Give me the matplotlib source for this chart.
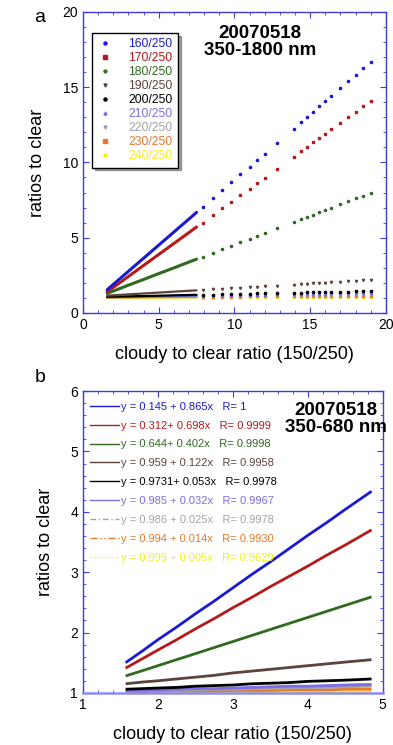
import numpy as np
import matplotlib.pyplot as plt
from matplotlib.ticker import MultipleLocator

plt.rcParams['font.family'] = ['Liberation Sans', 'DejaVu Sans']

# ---- data, panel a (350-1800 nm) ----
xa = [1.6, 2.0, 3.0, 4.0, 5.0, 6.0, 7.0, 7.5,
      7.9, 8.6, 9.2, 9.8, 10.4, 11.0, 11.5, 12.0, 12.8, 13.9, 14.4, 14.8,
      15.2, 15.6, 16.0, 16.4, 17.0, 17.5, 18.0, 18.5, 19.0]
ya_160 = [1.54, 1.89, 2.76, 3.63, 4.50, 5.37, 6.24, 6.68, 7.02, 7.63, 8.15, 8.68, 9.20, 9.72, 10.16,
          10.59, 11.29, 12.24, 12.68, 13.03, 13.37, 13.72, 14.07, 14.42, 14.94, 15.38, 15.81, 16.25, 16.68]
ya_170 = [1.40, 1.69, 2.42, 3.15, 3.88, 4.61, 5.34, 5.71, 6.00, 6.51, 6.95, 7.38, 7.82, 8.26, 8.63,
          8.99, 9.57, 10.38, 10.74, 11.03, 11.33, 11.62, 11.91, 12.20, 12.64, 13.01, 13.37, 13.74, 14.10]
ya_180 = [1.30, 1.45, 1.84, 2.22, 2.61, 2.99, 3.38, 3.57, 3.72, 3.99, 4.22, 4.45, 4.68, 4.92, 5.11,
          5.30, 5.61, 6.03, 6.22, 6.38, 6.53, 6.69, 6.84, 6.99, 7.23, 7.42, 7.61, 7.80, 8.00]
ya_190 = [1.15, 1.17, 1.23, 1.29, 1.35, 1.41, 1.47, 1.50, 1.52, 1.57, 1.60, 1.64, 1.67, 1.71, 1.74,
          1.77, 1.82, 1.88, 1.91, 1.94, 1.96, 1.99, 2.01, 2.03, 2.07, 2.10, 2.13, 2.16, 2.19]
ya_200 = [1.07, 1.08, 1.10, 1.12, 1.14, 1.17, 1.19, 1.20, 1.21, 1.22, 1.24, 1.25, 1.26, 1.28, 1.29,
          1.30, 1.32, 1.34, 1.35, 1.36, 1.37, 1.38, 1.39, 1.40, 1.41, 1.42, 1.43, 1.44, 1.45]
ya_210 = [1.05, 1.06, 1.07, 1.09, 1.11, 1.12, 1.14, 1.15, 1.15, 1.16, 1.17, 1.18, 1.19, 1.20, 1.21,
          1.22, 1.23, 1.25, 1.26, 1.26, 1.27, 1.27, 1.28, 1.29, 1.30, 1.31, 1.31, 1.32, 1.33]
ya_220 = [1.04, 1.04, 1.06, 1.07, 1.08, 1.09, 1.10, 1.11, 1.11, 1.12, 1.13, 1.14, 1.14, 1.15, 1.16,
          1.16, 1.17, 1.19, 1.19, 1.20, 1.20, 1.21, 1.21, 1.22, 1.22, 1.23, 1.24, 1.24, 1.25]
ya_230 = [1.02, 1.02, 1.03, 1.04, 1.05, 1.05, 1.06, 1.06, 1.07, 1.07, 1.07, 1.08, 1.08, 1.09, 1.09,
          1.09, 1.10, 1.11, 1.11, 1.11, 1.12, 1.12, 1.12, 1.12, 1.13, 1.13, 1.14, 1.14, 1.14]
ya_240 = [1.00, 1.00, 1.01, 1.01, 1.01, 1.02, 1.02, 1.02, 1.02, 1.02, 1.03, 1.03, 1.03, 1.03, 1.03,
          1.03, 1.04, 1.04, 1.04, 1.04, 1.04, 1.05, 1.05, 1.05, 1.05, 1.05, 1.05, 1.06, 1.06]

# ---- data, panel b (350-680 nm) ----
xb = [1.57, 1.8, 2.0, 2.25, 2.5, 2.75, 3.0, 3.25, 3.5, 3.75, 4.0, 4.25, 4.5, 4.85]
yb_160 = [1.50, 1.70, 1.88, 2.09, 2.31, 2.52, 2.74, 2.96, 3.17, 3.39, 3.61, 3.82, 4.04, 4.34]
yb_170 = [1.41, 1.57, 1.71, 1.88, 2.06, 2.23, 2.41, 2.58, 2.76, 2.93, 3.10, 3.28, 3.45, 3.70]
yb_180 = [1.28, 1.37, 1.45, 1.55, 1.65, 1.75, 1.85, 1.95, 2.05, 2.15, 2.25, 2.35, 2.45, 2.59]
yb_190 = [1.15, 1.18, 1.20, 1.23, 1.26, 1.29, 1.33, 1.36, 1.39, 1.42, 1.45, 1.48, 1.51, 1.55]
yb_200 = [1.06, 1.07, 1.08, 1.09, 1.11, 1.12, 1.13, 1.15, 1.16, 1.17, 1.19, 1.20, 1.21, 1.23]
yb_210 = [1.04, 1.04, 1.05, 1.06, 1.07, 1.07, 1.08, 1.09, 1.10, 1.11, 1.11, 1.12, 1.13, 1.14]
yb_220 = [1.03, 1.03, 1.04, 1.04, 1.05, 1.06, 1.06, 1.07, 1.07, 1.08, 1.09, 1.09, 1.10, 1.11]
yb_230 = [1.02, 1.02, 1.02, 1.03, 1.03, 1.03, 1.04, 1.04, 1.04, 1.05, 1.05, 1.05, 1.06, 1.06]
yb_240 = [1.01, 1.01, 1.01, 1.01, 1.01, 1.01, 1.01, 1.02, 1.02, 1.02, 1.02, 1.02, 1.02, 1.02]

labels = ['160/250', '170/250', '180/250', '190/250', '200/250',
          '210/250', '220/250', '230/250', '240/250']
fit_text = ['0.145 + 0.865x', '0.312+ 0.698x', '0.644+ 0.402x', '0.959 + 0.122x',
            '0.9731+ 0.053x', '0.985 + 0.032x', '0.986 + 0.025x', '0.994 + 0.014x',
            '0.999 + 0.005x']
fit_r = ['1', '0.9999', '0.9998', '0.9958', '0.9978', '0.9967', '0.9978', '0.9930', '0.9629']

colors = ['#1a1ad0', '#b51a1a', '#2f6a1f', '#5c433c', '#000000',
          '#7b6ee6', '#a3a3a3', '#e8782c', '#f2f01a']
markers = ['o', 's', 'P', 'v', 'o', '^', 'v', 's', 'o']
fit_styles = ['-', '-', '-', '-', '-', '-', (0, (4, 2, 1, 2)), (0, (5, 2, 1, 2, 1, 2)), ':']

ya_all = [ya_160, ya_170, ya_180, ya_190, ya_200, ya_210, ya_220, ya_230, ya_240]
yb_all = [yb_160, yb_170, yb_180, yb_190, yb_200, yb_210, yb_220, yb_230, yb_240]

spine_col = '#3c3ce0'

fig = plt.figure(figsize=(3.93, 7.45), dpi=100)
ax1 = fig.add_axes([0.211, 0.580, 0.771, 0.404])
ax2 = fig.add_axes([0.211, 0.070, 0.763, 0.405])


def style_axes(ax):
    for s in ax.spines.values():
        s.set_color(spine_col)
        s.set_linewidth(1.0)
    ax.tick_params(which='both', direction='in', colors=spine_col, labelcolor='black',
                   top=True, right=True, labelsize=10)
    ax.tick_params(which='major', length=4)
    ax.tick_params(which='minor', length=2.5)


# panel a
xa_arr = np.array(xa)
dense = xa_arr <= 7.5
for i in range(len(labels))[::-1]:
    y = np.array(ya_all[i])
    lw = 2.2 if i < 3 else 1.6
    ax1.plot(xa_arr[dense], y[dense], color=colors[i], lw=lw, solid_capstyle='round')
    ax1.plot(xa_arr[~dense], y[~dense], ls='none', marker=markers[i], ms=1.6,
             color=colors[i])
handles = [ax1.plot([], [], ls='none', marker=markers[i], ms=2.2, color=colors[i],
                    label=labels[i])[0] for i in range(len(labels))]
leg = ax1.legend(handles=handles, loc='upper left', bbox_to_anchor=(0.03, 0.93),
                 fontsize=8.8, labelcolor='linecolor', frameon=True, shadow=True,
                 fancybox=False, edgecolor='black', handlelength=1.2, handletextpad=1.3,
                 labelspacing=0.16, borderpad=0.45, borderaxespad=0.0)
leg.get_frame().set_linewidth(1.0)
ax1.set_xlim(0, 20)
ax1.set_ylim(0, 20)
ax1.xaxis.set_major_locator(MultipleLocator(5))
ax1.xaxis.set_minor_locator(MultipleLocator(1))
ax1.yaxis.set_major_locator(MultipleLocator(5))
ax1.yaxis.set_minor_locator(MultipleLocator(1))
style_axes(ax1)
ax1.set_xlabel('cloudy to clear ratio (150/250)', fontsize=13, labelpad=10)
ax1.set_ylabel('ratios to clear', fontsize=13, labelpad=12)
ax1.text(0.585, 0.955, '20070518\n350-1800 nm', transform=ax1.transAxes, ha='center',
         va='top', fontsize=13.5, fontweight='bold', linespacing=1.0)
fig.text(0.102, 0.977, 'a', fontsize=14, ha='center', va='center')

# panel b
for i in range(len(labels))[::-1]:
    ax2.plot(xb, yb_all[i], color=colors[i], lw=2.0, solid_capstyle='butt')
fit_handles = [ax2.plot([], [], color=colors[i], lw=1.0, ls=fit_styles[i],
                        label='y = %s   R= %s' % (fit_text[i], fit_r[i]))[0]
               for i in range(len(labels))]
ax2.legend(handles=fit_handles, loc='upper left', bbox_to_anchor=(-0.01, 1.0),
           fontsize=8.0, labelcolor='linecolor', frameon=False, handlelength=2.6,
           handletextpad=0.15, labelspacing=0.8, borderpad=0.45)
ax2.set_xlim(1, 5)
ax2.set_ylim(1, 6)
ax2.xaxis.set_major_locator(MultipleLocator(1))
ax2.xaxis.set_minor_locator(MultipleLocator(0.2))
ax2.yaxis.set_major_locator(MultipleLocator(1))
ax2.yaxis.set_minor_locator(MultipleLocator(0.2))
style_axes(ax2)
ax2.spines['bottom'].set_color('#8a8af2')
ax2.spines['bottom'].set_linewidth(1.8)
ax2.set_xlabel('cloudy to clear ratio (150/250)', fontsize=13, labelpad=10)
ax2.set_ylabel('ratios to clear', fontsize=13, labelpad=12)
ax2.text(0.845, 0.965, '20070518\n350-680 nm', transform=ax2.transAxes, ha='center',
         va='top', fontsize=13.5, fontweight='bold', linespacing=1.0)
fig.text(0.102, 0.493, 'b', fontsize=14, ha='center', va='center')

fig.savefig('out.png', dpi=100)
plt.close(fig)
